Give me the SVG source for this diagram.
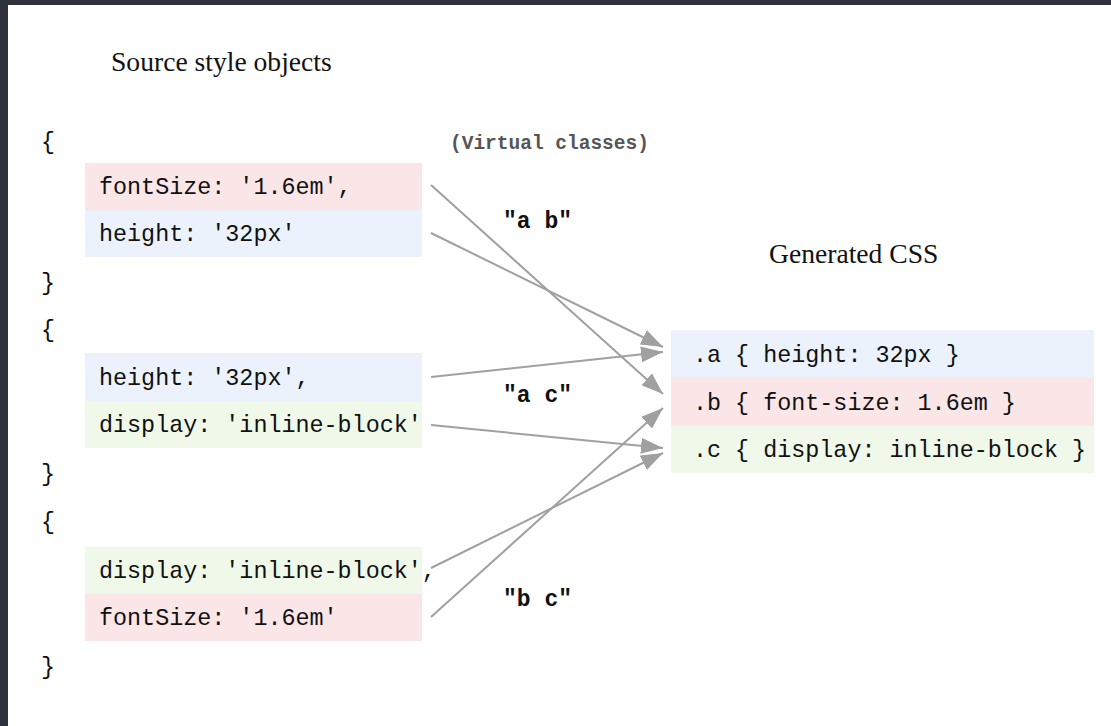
<svg xmlns="http://www.w3.org/2000/svg" width="1111" height="726" viewBox="0 0 1111 726">
<defs>
<style>
.serif{font-family:"Liberation Serif","Times New Roman",serif;font-size:27.6px;fill:#111}
.mono{font-family:"Liberation Mono","Courier New",monospace;font-size:23.4px;fill:#111}
.lbl{font-family:"Liberation Mono","Courier New",monospace;font-size:23px;font-weight:bold;fill:#111}
.vc{font-family:"Liberation Mono","Courier New",monospace;font-size:19.5px;font-weight:bold;fill:#555}
.pink{fill:#fbe6e7}
.blue{fill:#ebf2fb}
.green{fill:#f0f8ea}
.conn{stroke:#a0a0a0;stroke-width:2;fill:none}
</style>
<marker id="ah" viewBox="0 0 22 16" refX="22" refY="8" markerWidth="22" markerHeight="16" markerUnits="userSpaceOnUse" orient="auto">
<path d="M0,0 L22,8 L0,16 Z" fill="#a0a0a0"/>
</marker>
</defs>
<rect x="0" y="0" width="1111" height="726" fill="#ffffff"/>
<rect x="0" y="0" width="1111" height="5" fill="#2e323c"/>
<rect x="0" y="0" width="8" height="726" fill="#2e323c"/>

<g id="titles">
<text class="serif" x="111" y="71">Source style objects</text>
<text class="serif" x="769" y="263">Generated CSS</text>
<text class="vc" x="450" y="149">(Virtual classes)</text>
</g>

<g id="braces">
<text class="mono" x="41" y="149">{</text>
<text class="mono" x="41" y="290">}</text>
<text class="mono" x="41" y="337">{</text>
<text class="mono" x="41" y="481">}</text>
<text class="mono" x="41" y="529">{</text>
<text class="mono" x="41" y="674">}</text>
</g>

<g id="src1">
<rect class="pink" x="85" y="163" width="337" height="47"/>
<text class="mono" x="99" y="194">fontSize: '1.6em',</text>
<rect class="blue" x="85" y="210" width="337" height="47"/>
<text class="mono" x="99" y="241">height: '32px'</text>
</g>

<g id="src2">
<rect class="blue" x="85" y="353" width="337" height="48"/>
<text class="mono" x="99" y="385">height: '32px',</text>
<rect class="green" x="85" y="401" width="337" height="47"/>
<text class="mono" x="99" y="432">display: 'inline-block'</text>
</g>

<g id="src3">
<rect class="green" x="85" y="547" width="337" height="47"/>
<text class="mono" x="99" y="578">display: 'inline-block',</text>
<rect class="pink" x="85" y="594" width="337" height="47"/>
<text class="mono" x="99" y="625">fontSize: '1.6em'</text>
</g>

<g id="css">
<rect class="blue" x="671" y="330" width="423" height="48"/>
<text class="mono" x="693" y="362">.a { height: 32px }</text>
<rect class="pink" x="671" y="378" width="423" height="48"/>
<text class="mono" x="693" y="410">.b { font-size: 1.6em }</text>
<rect class="green" x="671" y="426" width="423" height="47"/>
<text class="mono" x="693" y="457">.c { display: inline-block }</text>
</g>

<g id="labels">
<text class="lbl" x="503" y="228">"a b"</text>
<text class="lbl" x="503" y="402">"a c"</text>
<text class="lbl" x="503" y="606">"b c"</text>
</g>

<g id="connectors">
<line class="conn" x1="431" y1="185" x2="663" y2="394" marker-end="url(#ah)"/>
<line class="conn" x1="431" y1="233" x2="663" y2="347" marker-end="url(#ah)"/>
<line class="conn" x1="431" y1="377" x2="663" y2="352" marker-end="url(#ah)"/>
<line class="conn" x1="431" y1="425" x2="663" y2="448" marker-end="url(#ah)"/>
<line class="conn" x1="431" y1="568" x2="663" y2="453" marker-end="url(#ah)"/>
<line class="conn" x1="431" y1="617" x2="663" y2="408" marker-end="url(#ah)"/>
</g>
</svg>
